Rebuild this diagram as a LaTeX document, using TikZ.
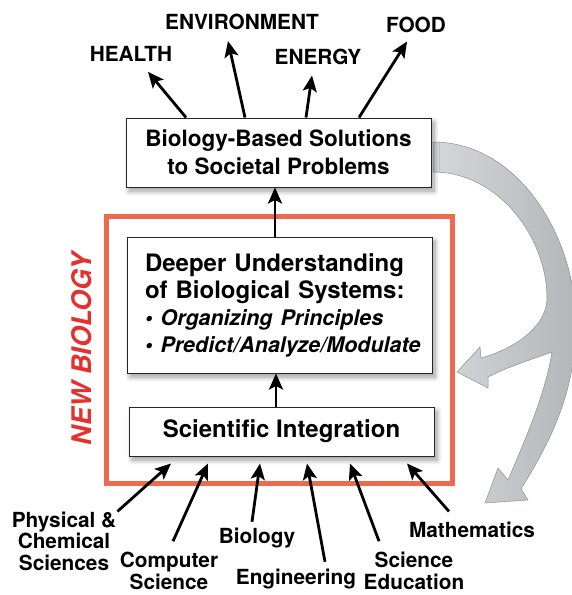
\documentclass[tikz,border=0pt]{standalone}
\usepackage{fontspec}
\setmainfont{TeX Gyre Heros}
\usetikzlibrary{arrows.meta,calc,shadows.blur}
\definecolor{bred}{HTML}{EE6A4D}
\definecolor{btitle}{HTML}{E5302E}
\definecolor{bgraylight}{HTML}{D6D7D9}
\definecolor{bgray}{HTML}{B4B5B8}
\definecolor{bgraydark}{HTML}{8F9093}
\newcommand{\labsize}{\fontsize{20.8}{21.5}\selectfont\bfseries}
\newcommand{\boxsize}{\fontsize{24}{27}\selectfont\bfseries}
\newcommand{\itsize}{\fontsize{21.5}{27}\selectfont\bfseries\itshape}

\begin{document}
\begin{tikzpicture}[x=1pt,y=-1pt,
 boxnode/.style={draw=black!85, line width=1pt, fill=white, inner sep=0pt, minimum width=305pt,
  blur shadow={shadow xshift=3pt, shadow yshift=-4pt, shadow blur radius=5pt, shadow blur steps=10, shadow opacity=40}},
 lab/.style={font=\labsize, align=center, inner sep=1pt},
 conn/.style={line width=2.8pt, -{Stealth[length=16pt,width=14pt,inset=3.5pt]}}]
 \useasboundingbox (0,0) rectangle (572,595);
 % recycling arrow
 \path[draw=bgraydark, line width=0.5pt, left color=bgraylight, right color=bgray]
  (433,142) .. controls (520,142) and (578,240) .. (576,330)
  .. controls (574,400) and (545,450) .. (521,489)
  -- (528,500) -- (485,503) -- (498,468) -- (508,480)
  .. controls (525,440) and (545,395) .. (552,352)
  .. controls (530,360) and (505,368) .. (488,377)
  -- (488,388) -- (457,372) -- (480,347) -- (481,358)
  .. controls (510,350) and (545,330) .. (547,300)
  .. controls (548,240) and (500,172) .. (433,172) -- cycle;
 \draw[bred, line width=5pt] (106,216) rectangle (452,483);
 \node[rotate=90, text=btitle, font=\fontsize{27}{27}\selectfont\bfseries\itshape] (newbio) at (82,349) {NEW BIOLOGY};
 \node[boxnode, minimum height=69pt, align=center, font=\fontsize{22.5}{28}\selectfont\bfseries] (solutions) at (278.5,152.5) {Biology-Based Solutions\\to Societal Problems};
 \node[boxnode, minimum height=136pt, text width=269pt, align=left, font=\boxsize] (understanding) at (279.5,305)
  {\mbox{Deeper Understanding}\\\mbox{of Biological Systems:}\\\mbox{\itsize • Organizing Principles}\\\mbox{\itsize • Predict/Analyze/Modulate}};
 \node[boxnode, minimum height=49pt, font=\boxsize] (integration) at (281.5,431.5) {Scientific Integration};
 \draw[conn] ([xshift=-5.5pt]integration.north) -- ([xshift=-3.5pt]understanding.south);
 \draw[conn] ([xshift=-4.5pt]understanding.north) -- ([xshift=-3.5pt]solutions.south);
 % societal problems
 \node[lab] (health) at (131,54) {HEALTH};
 \node[lab] (environment) at (242,22) {ENVIRONMENT};
 \node[lab] (energy) at (318,57) {ENERGY};
 \node[lab] (food) at (416,25) {FOOD};
 \draw[conn] ([xshift=-92.5pt]solutions.north) -- ([xshift=17pt,yshift=-9pt]health.south);
 \draw[conn] ([xshift=-33.5pt]solutions.north) -- ([xshift=-14pt,yshift=-10pt]environment.south);
 \draw[conn] ([xshift=27.5pt]solutions.north) -- ([xshift=-6pt,yshift=-9.5pt]energy.south);
 \draw[conn] ([xshift=80.5pt]solutions.north) -- ([xshift=-9pt,yshift=-7.5pt]food.south);
 % disciplines
 \node[lab] (physical) at (64,541) {Physical \&\\Chemical\\Sciences};
 \node[lab] (computer) at (169,571) {Computer\\Science};
 \node[lab] (biology) at (257,538) {Biology};
 \node[lab] (engineering) at (296,579) {Engineering};
 \node[lab] (education) at (414,571) {Science\\Education};
 \node[lab] (mathematics) at (472,530) {Mathematics};
 \draw[conn] ([yshift=-1pt]physical.north east) -- ([xshift=-110.5pt,yshift=-7pt]integration.south);
 \draw[conn] ([xshift=4pt,yshift=10pt]computer.north) -- ([xshift=-73.5pt,yshift=-7pt]integration.south);
 \draw[conn] ([xshift=-5pt,yshift=5pt]biology.north) -- ([xshift=-21.5pt,yshift=-7pt]integration.south);
 \draw[conn] ([xshift=29pt,yshift=6pt]engineering.north) -- ([xshift=25.5pt,yshift=-7pt]integration.south);
 \draw[conn] ([xshift=16.5pt,yshift=10pt]education.north west) -- ([xshift=68.5pt,yshift=-7pt]integration.south);
 \draw[conn] ([xshift=-23pt,yshift=9.5pt]mathematics.north) -- ([xshift=125.5pt,yshift=-7pt]integration.south);
\end{tikzpicture}
\end{document}
